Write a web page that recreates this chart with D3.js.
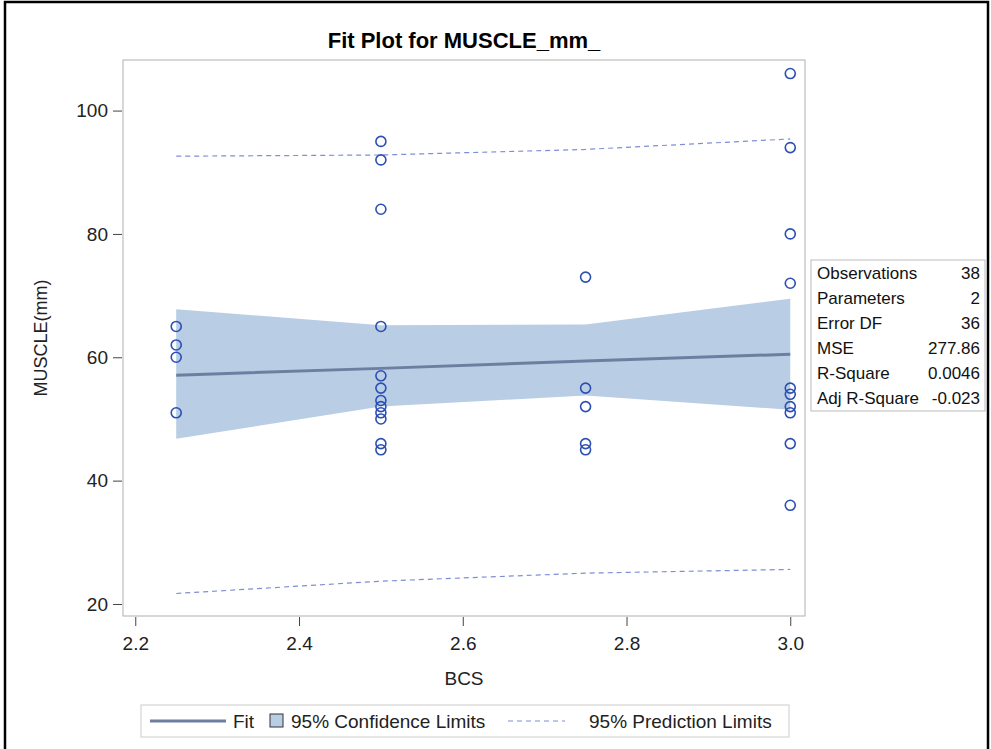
<!DOCTYPE html>
<html>
<head>
<meta charset="utf-8">
<script src="https://cdn.jsdelivr.net/npm/d3@7"></script>
<style>
  html, body { margin: 0; padding: 0; background: #fff; }
  svg { display: block; font-family: "Liberation Sans", Arial, sans-serif; }
</style>
</head>
<body>
<svg id="chart" width="991" height="749"></svg>
<script>
// ---- data ----
const pointsX225 = [65, 62, 60, 51];
const pointsX250 = [95, 92, 84, 65, 57, 55, 53, 52, 51, 50, 46, 45];
const pointsX275 = [73, 55, 52, 46, 45];
const pointsX300 = [106, 94, 80, 72, 55, 54, 52, 51, 46, 36];
const bcsLevels = [2.25, 2.5, 2.75, 3.0];
const fitValues = [57.1, 58.2, 59.4, 60.5];
const clUpper = [67.8, 65.2, 65.3, 69.5];
const clLower = [46.8, 52.0, 53.8, 51.5];
const plUpper = [92.6, 92.8, 93.7, 95.4];
const plLower = [21.7, 23.7, 25.0, 25.6];
const xTicks = [2.2, 2.4, 2.6, 2.8, 3.0];
const yTicks = [20, 40, 60, 80, 100];
const statLabels = ["Observations", "Parameters", "Error DF", "MSE", "R-Square", "Adj R-Square"];
const statValues = ["38", "2", "36", "277.86", "0.0046", "-0.023"];

const svg = d3.select("#chart");
const W = 991, H = 749;
const plot = { left: 123, top: 60, right: 805, bottom: 616 };
const FONT = "'Liberation Sans', Arial, sans-serif";

const x = d3.scaleLinear().domain([2.185, 3.018]).range([plot.left, plot.right]);
const y = d3.scaleLinear().domain([18.05, 108.2]).range([plot.bottom, plot.top]);

// outer frame
svg.append("rect").attr("x", 0).attr("y", 0).attr("width", W).attr("height", H).attr("fill", "#fff");
svg.append("rect").attr("x", 5).attr("y", 2).attr("width", 983).attr("height", 770)
  .attr("fill", "none").attr("stroke", "#000").attr("stroke-width", 2.5);

// title
svg.append("text").attr("x", (plot.left + plot.right) / 2).attr("y", 48)
  .attr("text-anchor", "middle").attr("font-size", 22).attr("font-weight", "bold")
  .attr("fill", "#000").text("Fit Plot for MUSCLE_mm_");

const band = bcsLevels.map((b, i) => ({ x: b, lo: clLower[i], hi: clUpper[i] }));
svg.append("path").datum(band)
  .attr("d", d3.area().x(d => x(d.x)).y0(d => y(d.lo)).y1(d => y(d.hi)))
  .attr("fill", "#b9cde5");

const lineGen = d3.line().x(d => x(d[0])).y(d => y(d[1]));
svg.append("path").datum(bcsLevels.map((b, i) => [b, fitValues[i]]))
  .attr("d", lineGen).attr("fill", "none").attr("stroke", "#6c7fa0").attr("stroke-width", 3);

[plUpper, plLower].forEach(arr => {
  svg.append("path").datum(bcsLevels.map((b, i) => [b, arr[i]]))
    .attr("d", lineGen).attr("fill", "none").attr("stroke", "#7d8fd6")
    .attr("stroke-width", 1.2).attr("stroke-dasharray", "5,4");
});

// points
const pts = [];
[[2.25, pointsX225], [2.5, pointsX250], [2.75, pointsX275], [3.0, pointsX300]].forEach(([b, arr]) => {
  arr.forEach(v => pts.push({ x: b, y: v }));
});
svg.append("g").selectAll("circle").data(pts).join("circle")
  .attr("cx", d => x(d.x)).attr("cy", d => y(d.y)).attr("r", 5)
  .attr("fill", "none").attr("stroke", "#2b4fb3").attr("stroke-width", 1.6);

// plot frame
svg.append("rect").attr("x", plot.left).attr("y", plot.top)
  .attr("width", plot.right - plot.left).attr("height", plot.bottom - plot.top)
  .attr("fill", "none").attr("stroke", "#b0b0b0").attr("stroke-width", 1);

// axes
const xAxis = d3.axisBottom(x).tickValues(xTicks).tickFormat(d3.format(".1f")).tickSize(9).tickPadding(11);
const gx = svg.append("g").attr("transform", `translate(0,${plot.bottom + 1})`).call(xAxis);
gx.select(".domain").remove();
gx.selectAll("line").attr("stroke", "#444");
gx.selectAll("text").attr("font-size", 19).attr("fill", "#222").attr("font-family", FONT);

const yAxis = d3.axisLeft(y).tickValues(yTicks).tickSize(9).tickPadding(5);
const gy = svg.append("g").attr("transform", `translate(${plot.left - 1},0)`).call(yAxis);
gy.select(".domain").remove();
gy.selectAll("line").attr("stroke", "#444");
gy.selectAll("text").attr("font-size", 19).attr("fill", "#222").attr("font-family", FONT);

svg.append("text").attr("x", (plot.left + plot.right) / 2).attr("y", 685)
  .attr("text-anchor", "middle").attr("font-size", 19).attr("fill", "#222").text("BCS");
svg.append("text").attr("transform", `translate(47,${(plot.top + plot.bottom) / 2}) rotate(-90)`)
  .attr("text-anchor", "middle").attr("font-size", 18).attr("fill", "#222").text("MUSCLE(mm)");

// stats inset
const st = svg.append("g");
st.append("rect").attr("x", 811).attr("y", 260).attr("width", 174).attr("height", 151)
  .attr("fill", "#fff").attr("stroke", "#bbb").attr("stroke-width", 1);
statLabels.forEach((lab, i) => {
  st.append("text").attr("x", 817).attr("y", 279 + i * 25).attr("font-size", 17)
    .attr("fill", "#111").text(lab);
  st.append("text").attr("x", 980).attr("y", 279 + i * 25).attr("font-size", 17)
    .attr("text-anchor", "end").attr("fill", "#111").text(statValues[i]);
});

// legend
const lg = svg.append("g");
lg.append("rect").attr("x", 141).attr("y", 705).attr("width", 648).attr("height", 32)
  .attr("fill", "#fff").attr("stroke", "#ccc").attr("stroke-width", 1);
lg.append("line").attr("x1", 150).attr("x2", 226).attr("y1", 721).attr("y2", 721)
  .attr("stroke", "#6c7fa0").attr("stroke-width", 3);
lg.append("text").attr("x", 233).attr("y", 728).attr("font-size", 19).attr("fill", "#222").text("Fit");
lg.append("rect").attr("x", 270).attr("y", 714).attr("width", 13).attr("height", 13)
  .attr("fill", "#b9cde5").attr("stroke", "#333").attr("stroke-width", 1);
lg.append("text").attr("x", 291).attr("y", 728).attr("font-size", 19).attr("fill", "#222").text("95% Confidence Limits");
lg.append("line").attr("x1", 508).attr("x2", 565).attr("y1", 721).attr("y2", 721)
  .attr("stroke", "#7d8fd6").attr("stroke-width", 1.2).attr("stroke-dasharray", "5,4");
lg.append("text").attr("x", 589).attr("y", 728).attr("font-size", 19).attr("fill", "#222").text("95% Prediction Limits");
</script>
</body>
</html>
